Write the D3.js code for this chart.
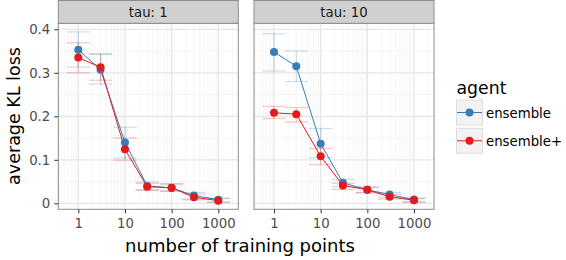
<!DOCTYPE html>
<html><head><meta charset="utf-8">
<script src="https://cdn.jsdelivr.net/npm/d3@7"></script>
<style>body{margin:0;background:#fff}svg{display:block;font-family:"DejaVu Sans",sans-serif}</style>
</head><body>
<svg id="c" width="566" height="260"></svg>
<script>
const xs = [1, 3, 10, 30, 100, 300, 1000];
const panels = ["tau: 1", "tau: 10"];
const agents = ["ensemble", "ensemble+"];
const colors = ["#377eb8", "#e41a1c"];
const xTicks = [1, 10, 100, 1000];
const yTicks = [0, 0.1, 0.2, 0.3, 0.4];
const yTickLabels = ["0", "0.1", "0.2", "0.3", "0.4"];

// tau 1
const t1EnsMean = [0.353, 0.307, 0.140, 0.040, 0.035, 0.018, 0.008];
const t1EnsLo   = [0.313, 0.274, 0.104, 0.031, 0.028, 0.010, 0.003];
const t1EnsHi   = [0.394, 0.342, 0.175, 0.049, 0.044, 0.025, 0.012];
const t1PlusMean = [0.335, 0.313, 0.124, 0.038, 0.036, 0.014, 0.006];
const t1PlusLo   = [0.300, 0.283, 0.099, 0.030, 0.028, 0.008, 0.002];
const t1PlusHi   = [0.369, 0.344, 0.150, 0.046, 0.045, 0.021, 0.011];
// tau 10
const t10EnsMean = [0.348, 0.315, 0.137, 0.047, 0.031, 0.020, 0.0085];
const t10EnsLo   = [0.304, 0.280, 0.105, 0.038, 0.025, 0.014, 0.004];
const t10EnsHi   = [0.390, 0.350, 0.172, 0.055, 0.037, 0.025, 0.012];
const t10PlusMean = [0.208, 0.205, 0.108, 0.041, 0.031, 0.015, 0.007];
const t10PlusLo   = [0.195, 0.187, 0.089, 0.032, 0.024, 0.010, 0.002];
const t10PlusHi   = [0.223, 0.220, 0.126, 0.046, 0.037, 0.021, 0.011];

const panelData = [
  [{mean: t1EnsMean, lo: t1EnsLo, hi: t1EnsHi}, {mean: t1PlusMean, lo: t1PlusLo, hi: t1PlusHi}],
  [{mean: t10EnsMean, lo: t10EnsLo, hi: t10EnsHi}, {mean: t10PlusMean, lo: t10PlusLo, hi: t10PlusHi}]
];

const svg = d3.select("#c");
const pTop = 23.3, pBottom = 209.3;
const panelLefts = [58.3, 254];
const pw = 180;
const y = d3.scaleLinear().domain([-0.0138, 0.4138]).range([pBottom, pTop]);
const xDom = [Math.pow(10, -0.4286), Math.pow(10, 3.4286)];

// minor ticks
const minorX = [];
for (let e = -1; e <= 3; e++) for (let m = 2; m <= 9; m++) {
  const v = m * Math.pow(10, e);
  if (v > xDom[0] && v < xDom[1]) minorX.push(v);
}
const minorY = [0.05, 0.15, 0.25, 0.35];

panelLefts.forEach((pl, pi) => {
  const x = d3.scaleLog().domain(xDom).range([pl, pl + pw]);
  const g = svg.append("g");
  g.append("rect").attr("x", pl).attr("y", pTop).attr("width", pw).attr("height", pBottom - pTop).attr("fill", "#fff");
  // grid
  g.selectAll(".mx").data(minorX).join("line")
    .attr("x1", d => x(d)).attr("x2", d => x(d)).attr("y1", pTop).attr("y2", pBottom)
    .attr("stroke", "#f2f2f2").attr("stroke-width", 0.7);
  g.selectAll(".my").data(minorY).join("line")
    .attr("x1", pl).attr("x2", pl + pw).attr("y1", d => y(d)).attr("y2", d => y(d))
    .attr("stroke", "#f0f0f0").attr("stroke-width", 0.8);
  g.selectAll(".Mx").data(xTicks).join("line")
    .attr("x1", d => x(d)).attr("x2", d => x(d)).attr("y1", pTop).attr("y2", pBottom)
    .attr("stroke", "#e6e6e6").attr("stroke-width", 1.3);
  g.selectAll(".My").data(yTicks).join("line")
    .attr("x1", pl).attr("x2", pl + pw).attr("y1", d => y(d)).attr("y2", d => y(d))
    .attr("stroke", "#e6e6e6").attr("stroke-width", 1.3);

  const series = panelData[pi];
  // error bars
  series.forEach((s, si) => {
    const eg = g.append("g").attr("stroke", colors[si]).attr("stroke-opacity", 0.25).attr("stroke-width", 1.2);
    xs.forEach((xv, i) => {
      const cx = x(xv);
      const lx = x(xv / Math.pow(10, 0.25)), rx = x(xv * Math.pow(10, 0.25));
      eg.append("line").attr("x1", cx).attr("x2", cx).attr("y1", y(s.lo[i])).attr("y2", y(s.hi[i]));
      eg.append("line").attr("x1", lx).attr("x2", rx).attr("y1", y(s.lo[i])).attr("y2", y(s.lo[i]));
      eg.append("line").attr("x1", lx).attr("x2", rx).attr("y1", y(s.hi[i])).attr("y2", y(s.hi[i]));
    });
  });
  const line = d3.line().x((d, i) => x(xs[i])).y(d => y(d));
  series.forEach((s, si) => {
    g.append("path").attr("d", line(s.mean)).attr("fill", "none").attr("stroke", colors[si]).attr("stroke-width", 1);
  });
  series.forEach((s, si) => {
    g.selectAll(null).data(s.mean).join("circle")
      .attr("cx", (d, i) => x(xs[i])).attr("cy", d => y(d)).attr("r", 4).attr("fill", colors[si]);
  });
  // border
  g.append("rect").attr("x", pl).attr("y", pTop).attr("width", pw).attr("height", pBottom - pTop)
    .attr("fill", "none").attr("stroke", "#8c8c8c").attr("stroke-width", 1);
  // strip
  g.append("rect").attr("x", pl).attr("y", 0.5).attr("width", pw).attr("height", pTop - 0.5)
    .attr("fill", "#d0d0d0").attr("stroke", "#8c8c8c").attr("stroke-width", 1);
  g.append("text").attr("x", pl + pw / 2).attr("y", 16.5).attr("text-anchor", "middle")
    .attr("font-size", 13.3).attr("fill", "#1a1a1a").text(panels[pi]);
  // x axis
  const xa = g.append("g").attr("transform", `translate(0,${pBottom})`)
    .call(d3.axisBottom(x).tickValues(xTicks).tickFormat(d3.format("d")).tickSize(4).tickPadding(5));
  xa.select(".domain").remove();
  xa.selectAll("line").attr("stroke", "#333");
  xa.selectAll("text").attr("font-size", 13.3).attr("fill", "#4d4d4d").attr("font-family", "DejaVu Sans");
  if (pi === 0) {
    const ya = g.append("g").attr("transform", `translate(${pl},0)`)
      .call(d3.axisLeft(y).tickValues(yTicks).tickFormat((d, i) => yTickLabels[i]).tickSize(4).tickPadding(4));
    ya.select(".domain").remove();
    ya.selectAll("line").attr("stroke", "#333");
    ya.selectAll("text").attr("font-size", 13.3).attr("fill", "#4d4d4d").attr("font-family", "DejaVu Sans");
  }
});

// axis titles
svg.append("text").attr("x", 240).attr("y", 252).attr("text-anchor", "middle")
  .attr("font-size", 18).attr("fill", "#000").text("number of training points");
svg.append("text").attr("transform", `translate(20,116) rotate(-90)`).attr("text-anchor", "middle")
  .attr("font-size", 17.5).attr("fill", "#000").text("average KL loss");

// legend
const lg = svg.append("g");
lg.append("text").attr("x", 456.5).attr("y", 94).attr("font-size", 17.3).attr("fill", "#000").text("agent");
agents.forEach((a, i) => {
  const ky = 100 + i * 28.3;
  lg.append("rect").attr("x", 456.5).attr("y", ky).attr("width", 26).attr("height", 25)
    .attr("fill", "#f2f2f2").attr("stroke", "#dedede");
  lg.append("line").attr("x1", 457).attr("x2", 482).attr("y1", ky + 12.5).attr("y2", ky + 12.5)
    .attr("stroke", colors[i]).attr("stroke-width", 1);
  lg.append("circle").attr("cx", 469.5).attr("cy", ky + 12.5).attr("r", 4).attr("fill", colors[i]);
  lg.append("text").attr("x", 486).attr("y", ky + 17.5).attr("font-size", 13.3).attr("fill", "#000").text(a);
});
</script>
</body></html>
